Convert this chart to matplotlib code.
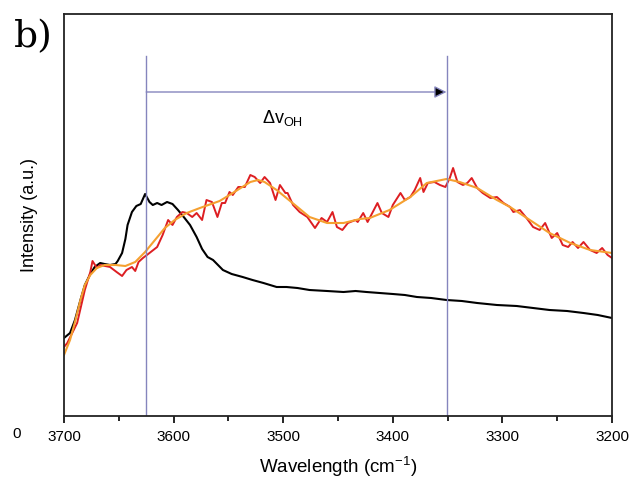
import matplotlib.pyplot as plt
import numpy as np

plt.rcParams['font.family'] = 'Liberation Sans'
plt.rcParams['mathtext.fontset'] = 'custom'
plt.rcParams['mathtext.rm'] = 'Liberation Sans'
plt.rcParams['mathtext.it'] = 'Liberation Sans'

# black spectrum
black_x = [3700, 3694.5, 3690, 3685, 3681, 3676, 3672, 3667, 3663, 3658, 3653, 3651, 3647, 3644,
           3642, 3638, 3634, 3630, 3626, 3622, 3619, 3615, 3611, 3606, 3601, 3596, 3590, 3585,
           3579, 3574, 3569, 3564, 3555, 3547, 3537, 3528, 3518, 3506, 3497, 3487, 3476, 3460,
           3445, 3434, 3424, 3412, 3400, 3389, 3378, 3365, 3351, 3337, 3323, 3305, 3287, 3272,
           3257, 3241, 3226, 3213, 3200]
black_y = [78, 83, 96, 116, 131, 142, 149, 153, 152, 151, 152, 155, 163, 177,
           191, 204, 210, 212, 222, 214, 211, 213, 211, 214, 212, 206, 198, 191,
           179, 167, 159, 156, 146, 142, 139, 136, 133, 129, 129, 128, 126, 125,
           124, 125, 124, 123, 122, 121, 119, 118, 116, 115, 113, 111, 110, 108,
           106, 105, 103, 101, 98]

# raw spectrum (red)
red_x = [3700, 3697, 3688, 3681, 3676, 3674, 3670, 3667, 3658, 3652, 3647, 3643, 3638, 3635,
         3632, 3628, 3622, 3615, 3610, 3605, 3601, 3597, 3592, 3588, 3583, 3579, 3574, 3570,
         3565, 3560, 3556, 3553, 3549, 3546, 3541, 3535, 3530, 3526, 3521, 3517, 3512, 3507,
         3503, 3498, 3496, 3491, 3485, 3478, 3471, 3465, 3460, 3455, 3451, 3446, 3441, 3434,
         3432, 3427, 3423, 3414, 3410, 3404, 3400, 3393, 3389, 3384, 3380, 3375, 3372, 3368,
         3362, 3357, 3352, 3348, 3345, 3341, 3336, 3332, 3328, 3323, 3318, 3311, 3305, 3299,
         3293, 3290, 3284, 3278, 3272, 3266, 3261, 3255, 3250, 3245, 3240, 3236, 3231, 3226,
         3220, 3214, 3209, 3204, 3200]
red_y = [69, 73, 93, 126, 144, 155, 148, 151, 149, 144, 140, 146, 149, 145,
         154, 158, 163, 169, 181, 196, 191, 199, 204, 203, 199, 203, 196, 216,
         214, 199, 213, 213, 224, 221, 229, 229, 241, 239, 233, 239, 233, 216,
         231, 223, 223, 211, 204, 199, 188, 198, 194, 204, 189, 186, 193, 196,
         194, 203, 194, 213, 203, 199, 211, 223, 216, 219, 226, 238, 224, 233,
         234, 231, 229, 238, 248, 234, 231, 233, 238, 228, 223, 218, 219, 213,
         209, 204, 206, 198, 189, 186, 193, 178, 183, 171, 169, 174, 168, 174,
         166, 163, 168, 161, 158]

# smoothed spectrum (orange)
orange_x = [3700, 3694.5, 3690, 3685, 3681, 3676, 3670, 3663, 3653, 3644, 3635, 3626, 3617, 3608,
            3599, 3588, 3576, 3558, 3549, 3530, 3523, 3517, 3506, 3487, 3476, 3460, 3445, 3430,
            3421, 3403, 3384, 3369, 3351, 3339, 3323, 3305, 3293, 3275, 3257, 3238, 3220, 3200]
orange_y = [61, 76, 94, 116, 131, 141, 148, 151, 151, 150, 154, 164, 176, 188,
            196, 203, 208, 215, 221, 234, 236, 234, 226, 209, 199, 193, 193, 197,
            198, 206, 219, 233, 237, 234, 228, 216, 209, 196, 183, 173, 166, 163]

xticks = [3700, 3600, 3500, 3400, 3300, 3200]
marks = [3625, 3351]

fig = plt.figure(figsize=(6.32, 4.79), dpi=100)
ax = fig.add_axes([64 / 632, 63 / 479, 548 / 632, 402 / 479])

ax.plot(black_x, black_y, color='black', lw=1.5)
ax.plot(red_x, red_y, color='#dd1e22', lw=1.4)
ax.plot(orange_x, orange_y, color='#f5a030', lw=1.5)

for m in marks:
    ax.plot([m, m], [0, 360], color='#8585bd', lw=1)
ax.annotate('', xy=(marks[1], 324), xytext=(marks[0], 324),
            arrowprops=dict(arrowstyle='-|>', color='#8585bd', lw=1,
                            mutation_scale=18, shrinkA=0, shrinkB=0, fc='black', ec='#8585bd'))
ax.text(3501, 298, 'Δv$_{\\rm OH}$', fontsize=13, ha='center', va='center')

ax.set_xlim(3700, 3200)
ax.set_ylim(0, 402)
ax.set_xticks(xticks)
ax.set_xticks(np.arange(3650, 3200, -100), minor=True)
ax.set_yticks([])
ax.tick_params(axis='x', which='major', direction='out', length=5, width=1.2, labelsize=11, pad=5)
ax.tick_params(axis='x', which='minor', direction='out', length=3.5, width=1.2)
for s in ax.spines.values():
    s.set_linewidth(1.3)
    s.set_color('#222222')

ax.set_xlabel('Wavelength (cm$^{-1}$)', fontsize=13.5, labelpad=8)
ax.set_ylabel('Intensity (a.u.)', fontsize=13, labelpad=19)

fig.text(12 / 632, 1 - 434 / 479, '0', fontsize=11, ha='left', va='center')
fig.text(14 / 632, 1 - 37 / 479, 'b)', fontsize=27, family='DejaVu Serif', ha='left', va='center')

fig.savefig('out.png', dpi=100)
